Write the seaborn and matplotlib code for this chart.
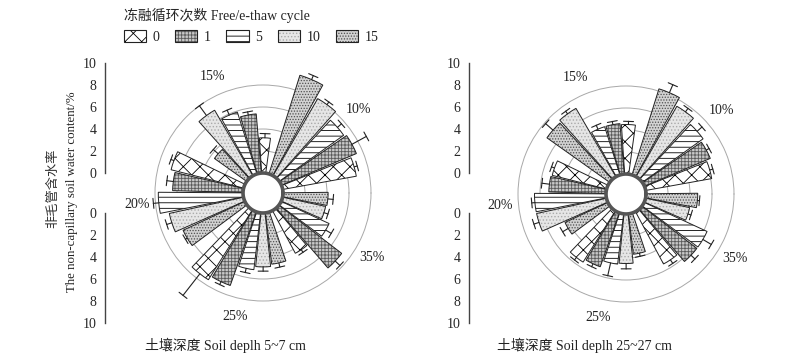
import numpy as np
import matplotlib
matplotlib.use("Agg")
import matplotlib.pyplot as plt
import seaborn as sns
from matplotlib.patches import Patch

# water content groups and freeze-thaw cycles
groups = ["10%", "15%", "20%", "25%", "35%"]
cycles = ["0", "1", "5", "10", "15"]

# soil depth 5~7 cm, one list per water content group (cycles 0,1,5,10,15)
shallow_10 = [6.8, 7.4, 7.2, 8.1, 9.4]
shallow_15 = [3.2, 5.4, 5.9, 6.9, 3.6]
shallow_20 = [6.8, 6.4, 7.7, 6.9, 6.2]
shallow_25 = [7.5, 7.1, 5.2, 4.9, 4.7]
shallow_35 = [4.4, 7.2, 4.8, 4.0, 4.1]
shallow_err = [[0.3, 1.5, 0.5, 0.3, 0.4],
               [0.4, 0.3, 0.5, 1.1, 0.6],
               [0.3, 0.6, 0.5, 0.5, 0.2],
               [2.5, 0.3, 0.4, 0.4, 0.4],
               [0.3, 0.6, 0.6, 0.4, 0.5]]

# soil depth 25~27 cm
deep_10 = [6.1, 6.5, 6.8, 7.4, 8.2]
deep_15 = [4.5, 4.6, 4.6, 7.2, 7.0]
deep_20 = [5.1, 5.2, 6.5, 6.5, 4.3]
deep_25 = [5.5, 5.2, 4.6, 4.5, 3.7]
deep_35 = [5.4, 6.3, 6.3, 4.1, 4.7]
deep_err = [[0.3, 0.3, 0.6, 0.4, 0.8],
            [0.3, 0.3, 0.4, 0.3, 0.9],
            [0.3, 0.7, 0.3, 0.5, 0.6],
            [0.3, 0.3, 1.2, 0.5, 0.3],
            [0.4, 0.5, 0.9, 0.3, 0.2]]

sns.set_theme(style="white")
plt.rcParams['font.family'] = ['Liberation Serif', 'Noto Sans CJK SC']
plt.rcParams['hatch.linewidth'] = 0.6

styles = {
    "0": dict(face="white", hatch="xx", hc="black"),
    "1": dict(face="#c8c8c8", hatch="+++++", hc="#5a5a5a"),
    "5": dict(face="white", hatch="---", hc="black"),
    "10": dict(face="#e6e6e6", hatch=".....", hc="#aaaaaa"),
    "15": dict(face="#d2d2d2", hatch="......", hc="#505050"),
}

W, H = 797, 360
fig = plt.figure(figsize=(W / 100, H / 100), dpi=100)

start = 16.0      # angle of first bar, degrees
group_step = 72.0
bar_step = 12.7
bar_w = np.deg2rad(11.6)


def draw_polar(cx, cy, vals, errs):
    R = 130
    ax = fig.add_axes([(cx - R) / W, 1 - (cy + R) / H, 2 * R / W, 2 * R / H],
                      projection="polar")
    ax.set_facecolor("none")
    ax.set_theta_zero_location("E")
    ax.set_ylim(0, 10)
    ax.set_rorigin(-20 / 11)
    ax.set_xticks([])
    ax.set_rticks([2, 4, 6, 8])
    ax.set_yticklabels([])
    ax.grid(True, color="#a8a8a8", lw=0.7)
    for s in ax.spines.values():
        s.set_visible(False)
    for g, gname in enumerate(groups):
        for c, cname in enumerate(cycles):
            th = np.deg2rad(start + group_step * g + bar_step * c)
            v = vals[g][c]
            e = errs[g][c]
            st = styles[cname]
            ax.bar(th, v, width=bar_w, bottom=0, color=st["face"],
                   hatch=st["hatch"], edgecolor=st["hc"], lw=0, zorder=2)
            ax.bar(th, v, width=bar_w, bottom=0, fill=False,
                   edgecolor="#222222", lw=0.7, zorder=3)
            ax.plot([th, th], [v, v + e], color="#222222", lw=0.8,
                    zorder=4, clip_on=False)
            d = 5.0 / (20 + 11 * (v + e))
            ax.plot([th - d, th + d], [v + e, v + e], color="#222222",
                    lw=0.8, zorder=4, clip_on=False)
        gth = np.deg2rad(start + group_step * g + bar_step * 2)
        ax.text(gth, 9.7, gname, ha="center", va="center", fontsize=10,
                color="#222222")
    ring = np.linspace(0, 2 * np.pi, 300)
    ax.plot(ring, np.zeros_like(ring), color="#555555", lw=2.6, zorder=5,
            clip_on=False)
    return ax


def draw_scale(x):
    top = fig.add_axes([x / W, 1 - 173 / H, 0.02, 110 / H])
    bot = fig.add_axes([x / W, 1 - 323 / H, 0.02, 110 / H])
    for a, lim in ((top, (0, 10)), (bot, (10, 0))):
        a.set_facecolor("none")
        a.set_ylim(*lim)
        a.set_yticks(range(0, 11, 2))
        a.set_xticks([])
        sns.despine(ax=a, bottom=True, right=True, top=True)
        a.spines["left"].set_color("#444444")
        a.spines["left"].set_linewidth(1.0)
        a.tick_params(axis="y", direction="out", length=4, width=0.9,
                      color="#444444", labelsize=10, pad=2)


shallow = [shallow_10, shallow_15, shallow_20, shallow_25, shallow_35]
deep = [deep_10, deep_15, deep_20, deep_25, deep_35]
draw_polar(263, 193, shallow, shallow_err)
draw_polar(626, 194, deep, deep_err)
draw_scale(105)
draw_scale(469)

fig.text(53 / W, 1 - 188 / H, "非毛管含水率", rotation=90, ha="center",
         va="center", fontsize=9.5, color="#333333")
fig.text(72 / W, 1 - 192 / H, "The non-capillary soil water content/%",
         rotation=90, ha="center", va="center", fontsize=9.3, color="#222222")
fig.text(145 / W, 1 - 345 / H, "土壤深度 Soil deplh 5~7 cm", ha="left",
         va="center", fontsize=10, color="#222222")
fig.text(497 / W, 1 - 345 / H, "土壤深度 Soil deplh 25~27 cm", ha="left",
         va="center", fontsize=10, color="#222222")

handles = []
for cname in cycles:
    st = styles[cname]
    p1 = Patch(facecolor=st["face"], hatch=st["hatch"], edgecolor=st["hc"], lw=0)
    p2 = Patch(fill=False, edgecolor="#222222", lw=0.8)
    handles.append((p1, p2))
leg = fig.legend(handles, cycles, ncol=5, loc="upper left",
                 bbox_to_anchor=(118 / W, 1 - 2 / H), frameon=False,
                 title="冻融循环次数 Free/e-thaw cycle", alignment="left",
                 fontsize=10, title_fontsize=10, handlelength=1.6,
                 handleheight=1.0, handletextpad=0.5, columnspacing=1.1,
                 borderaxespad=0)
for t in leg.get_texts():
    t.set_color("#222222")

fig.savefig("out.png", dpi=100)
